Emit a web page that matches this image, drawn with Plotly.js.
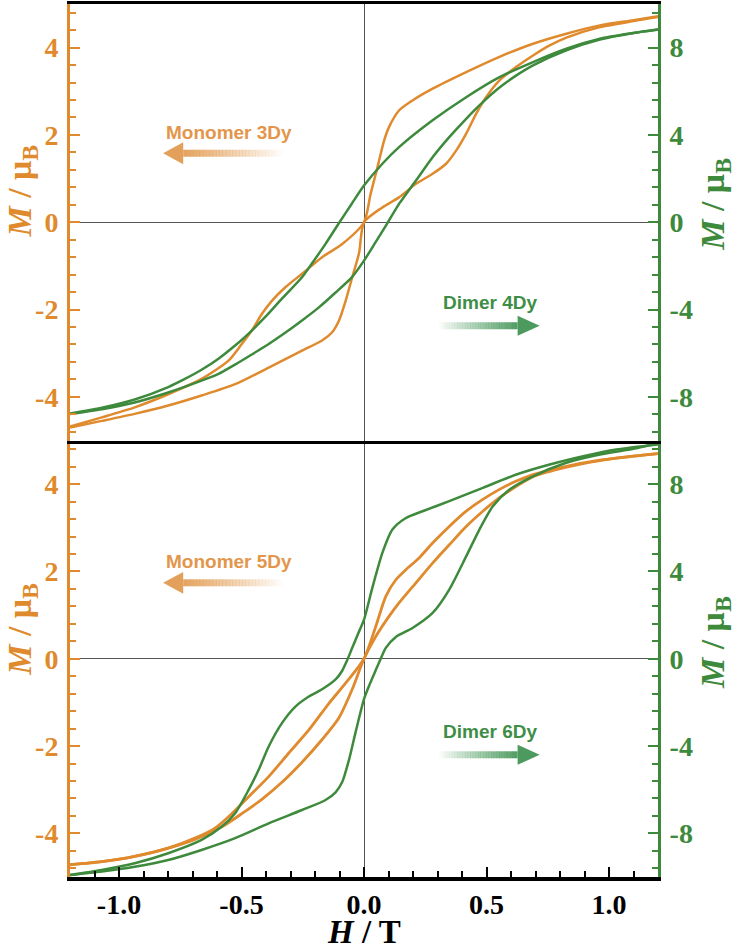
<!DOCTYPE html>
<html>
<head>
<meta charset="utf-8">
<script src="https://cdn.plot.ly/plotly-3.0.1.min.js"></script>
<style>html,body{margin:0;padding:0;background:#fff;}#chart{width:736px;height:950px;}</style>
</head>
<body>
<div id="chart"></div>
<script>
// ---------- DATA ----------
// Top panel, Monomer 3Dy (left axis, M / muB)
const H_top_mono_up = [-1.2,-1.07,-0.936,-0.799,-0.663,-0.526,-0.389,-0.253,-0.171,-0.13,-0.102,-0.075,-0.048,-0.02,0,0.075,0.143,0.212,0.28,0.335,0.376,0.417,0.458,0.499,0.553,0.622,0.69,0.758,0.826,0.963,1.10,1.2];
const M_top_mono_up = [-4.70,-4.55,-4.39,-4.20,-3.97,-3.71,-3.33,-2.94,-2.71,-2.52,-2.25,-1.80,-1.26,-0.70,0,0.34,0.57,0.88,1.11,1.34,1.64,2.03,2.49,2.87,3.25,3.56,3.82,4.05,4.23,4.47,4.61,4.70];
const H_top_mono_down = [1.2,1.10,0.963,0.826,0.69,0.553,0.417,0.28,0.198,0.143,0.102,0.082,0.055,0.027,0,-0.089,-0.171,-0.253,-0.321,-0.376,-0.417,-0.458,-0.499,-0.553,-0.663,-0.799,-0.936,-1.07,-1.2];
const M_top_mono_down = [4.72,4.63,4.51,4.32,4.09,3.79,3.44,3.06,2.79,2.56,2.18,1.87,1.26,0.65,0,-0.50,-0.80,-1.18,-1.49,-1.80,-2.10,-2.48,-2.79,-3.17,-3.59,-3.94,-4.24,-4.47,-4.68];
// Top panel, Dimer 4Dy (right axis)
const H_top_dim_up = [-1.2,-1.07,-0.936,-0.799,-0.663,-0.594,-0.526,-0.458,-0.389,-0.335,-0.253,-0.184,-0.116,-0.048,0,0.048,0.095,0.143,0.212,0.28,0.348,0.417,0.485,0.553,0.622,0.69,0.826,0.963,1.10,1.2];
const M_top_dim_up = [-8.79,-8.57,-8.26,-7.80,-7.26,-6.95,-6.52,-6.06,-5.58,-5.17,-4.50,-3.90,-3.22,-2.50,-1.76,-0.90,-0.05,0.84,1.91,2.98,3.90,4.74,5.50,6.17,6.73,7.19,7.88,8.37,8.67,8.83];
const H_top_dim_down = [1.2,1.10,0.963,0.826,0.69,0.553,0.417,0.28,0.143,0.075,0,-0.05,-0.10,-0.157,-0.212,-0.253,-0.335,-0.403,-0.471,-0.526,-0.594,-0.663,-0.731,-0.799,-0.936,-1.07,-1.2];
const M_top_dim_down = [8.83,8.67,8.41,7.95,7.34,6.65,5.73,4.67,3.44,2.68,1.68,0.85,0.0,-0.99,-1.88,-2.52,-3.50,-4.34,-5.10,-5.65,-6.25,-6.76,-7.18,-7.55,-8.12,-8.50,-8.76];
// Bottom panel, Monomer 5Dy (left axis)
const H_bot_mono_up = [-1.2,-1.07,-0.936,-0.799,-0.69,-0.58,-0.499,-0.417,-0.335,-0.253,-0.171,-0.102,-0.048,0,0.048,0.102,0.143,0.212,0.28,0.348,0.417,0.485,0.553,0.622,0.69,0.826,0.963,1.10,1.2];
const M_bot_mono_up = [-4.72,-4.65,-4.53,-4.34,-4.14,-3.85,-3.55,-3.22,-2.83,-2.37,-1.85,-1.35,-0.70,0,0.51,0.97,1.28,1.74,2.19,2.61,3.03,3.38,3.69,3.95,4.17,4.39,4.54,4.64,4.70];
const H_bot_mono_down = [1.2,1.10,0.963,0.826,0.69,0.622,0.553,0.485,0.417,0.348,0.28,0.225,0.171,0.13,0.089,0.048,0,-0.075,-0.143,-0.225,-0.307,-0.389,-0.471,-0.553,-0.608,-0.69,-0.799,-0.936,-1.07,-1.2];
const M_bot_mono_down = [4.70,4.64,4.55,4.41,4.22,4.07,3.88,3.65,3.38,3.03,2.65,2.31,2.04,1.81,1.43,0.74,0,-0.56,-1.02,-1.63,-2.16,-2.70,-3.16,-3.62,-3.88,-4.11,-4.34,-4.53,-4.65,-4.72];
// Bottom panel, Dimer 6Dy (right axis)
const H_bot_dim_up = [-1.2,-1.07,-0.936,-0.799,-0.663,-0.526,-0.389,-0.253,-0.157,-0.116,-0.089,-0.061,-0.034,0,0.024,0.048,0.07,0.089,0.13,0.198,0.28,0.348,0.417,0.471,0.526,0.594,0.69,0.826,0.963,1.10,1.2];
const M_bot_dim_up = [-9.91,-9.75,-9.53,-9.22,-8.76,-8.22,-7.54,-6.93,-6.47,-6.12,-5.65,-4.62,-3.35,-1.85,-1.15,-0.52,0.05,0.50,1.00,1.41,2.10,3.17,4.69,5.92,6.99,7.75,8.36,8.98,9.36,9.62,9.86];
const H_bot_dim_down = [1.2,1.03,0.895,0.758,0.622,0.485,0.348,0.239,0.171,0.116,0.075,0.034,0,-0.024,-0.048,-0.07,-0.089,-0.116,-0.171,-0.225,-0.28,-0.335,-0.389,-0.43,-0.471,-0.526,-0.58,-0.663,-0.799,-0.936,-1.07,-1.2];
const M_bot_dim_down = [9.82,9.59,9.28,8.90,8.44,7.83,7.22,6.76,6.45,5.92,4.85,3.25,1.79,1.15,0.50,-0.10,-0.55,-0.95,-1.40,-1.73,-2.19,-2.95,-4.02,-5.09,-6.01,-7.08,-7.69,-8.30,-8.91,-9.37,-9.68,-9.91];

// Tick labels
const xTickVals = [-1.0,-0.5,0,0.5,1.0];
const xTickText = ['-1.0','-0.5','0.0','0.5','1.0'];
const yLeftVals = [-4,-2,0,2,4];
const yLeftText = ['-4','-2','0','2','4'];
const yRightVals = [-8,-4,0,4,8];
const yRightText = ['-8','-4','0','4','8'];
// Labels
const labels = ['Monomer 3Dy','Dimer 4Dy','Monomer 5Dy','Dimer 6Dy'];

// ---------- STYLE ----------
const ORANGE = '#E08A2E';
const GREEN = '#3E8A3C';
const ORANGE_TXT = '#E3964B';
const GREEN_TXT = '#3E8E46';
const ORANGE_ARR = [227,160,90];
const GREEN_ARR = [76,154,94];
const SERIF = 'Liberation Serif';
const SANS = 'Liberation Sans';
const bold = (arr) => arr.map(t => '<b>' + t + '</b>');

function tr(x, y, xa, ya, color, w) {
  return {x: x, y: y, xaxis: xa, yaxis: ya, type: 'scatter', mode: 'lines',
    line: {color: color, width: w, shape: 'spline', smoothing: 0.7}, hoverinfo: 'skip', showlegend: false};
}
const traces = [
  tr(H_top_mono_up, M_top_mono_up, 'x2', 'y3', ORANGE, 2.5),
  tr(H_top_mono_down, M_top_mono_down, 'x2', 'y3', ORANGE, 2.5),
  tr(H_top_dim_up, M_top_dim_up, 'x2', 'y4', GREEN, 2.5),
  tr(H_top_dim_down, M_top_dim_down, 'x2', 'y4', GREEN, 2.5),
  tr(H_bot_mono_up, M_bot_mono_up, 'x', 'y', ORANGE, 2.8),
  tr(H_bot_mono_down, M_bot_mono_down, 'x', 'y', ORANGE, 2.8),
  tr(H_bot_dim_up, M_bot_dim_up, 'x', 'y2', GREEN, 2.5),
  tr(H_bot_dim_down, M_bot_dim_down, 'x', 'y2', GREEN, 2.5)
];

// gradient arrows drawn as shapes (decoration)
function gradArrow(xref, yref, xTip, xHead, xTail, y, hh, hs, rgb) {
  const out = [];
  const N = 30;
  for (let i = 0; i < N; i++) {
    const a0 = xHead + (xTail - xHead) * i / N;
    const a1 = xHead + (xTail - xHead) * (i + 1.15) / N;
    const t = i / N;
    const alpha = Math.max(0, 1 - t) * 0.95;
    out.push({type: 'rect', xref: xref, yref: yref, x0: a0, x1: a1, y0: y - hs, y1: y + hs,
      fillcolor: `rgba(${rgb[0]},${rgb[1]},${rgb[2]},${alpha.toFixed(3)})`, line: {width: 0}});
  }
  out.push({type: 'path', xref: xref, yref: yref,
    path: `M ${xTip} ${y} L ${xHead} ${y + hh} L ${xHead} ${y - hh} Z`,
    fillcolor: `rgb(${rgb[0]},${rgb[1]},${rgb[2]})`, line: {width: 0}});
  return out;
}
const shapes = [].concat(
  gradArrow('x2', 'y3', -0.82, -0.738, -0.336, 1.58, 0.25, 0.08, ORANGE_ARR),
  gradArrow('x2', 'y3', 0.717, 0.627, 0.307, -2.37, 0.23, 0.08, GREEN_ARR),
  gradArrow('x', 'y', -0.82, -0.738, -0.336, 1.74, 0.25, 0.08, ORANGE_ARR),
  gradArrow('x', 'y', 0.717, 0.627, 0.307, -2.20, 0.23, 0.08, GREEN_ARR)
);

const lblFont = (c) => ({family: SANS, size: 19, color: c});
const titleTxt = '<b><i>M</i> / μ<sub>B</sub></b>';
function ann(o) { return Object.assign({showarrow: false, xanchor: 'center', yanchor: 'middle'}, o); }
const annotations = [
  ann({xref: 'x2', yref: 'y3', x: -0.55, y: 2.06, text: '<b>' + labels[0] + '</b>', font: lblFont(ORANGE_TXT)}),
  ann({xref: 'x2', yref: 'y3', x: 0.516, y: -1.84, text: '<b>' + labels[1] + '</b>', font: lblFont(GREEN_TXT)}),
  ann({xref: 'x', yref: 'y', x: -0.55, y: 2.22, text: '<b>' + labels[2] + '</b>', font: lblFont(ORANGE_TXT)}),
  ann({xref: 'x', yref: 'y', x: 0.516, y: -1.67, text: '<b>' + labels[3] + '</b>', font: lblFont(GREEN_TXT)}),
  ann({xref: 'paper', yref: 'paper', x: -0.082, y: 0.786, text: titleTxt, textangle: -90,
    font: {family: SERIF, size: 34, color: ORANGE}}),
  ann({xref: 'paper', yref: 'paper', x: -0.082, y: 0.284, text: titleTxt, textangle: -90,
    font: {family: SERIF, size: 34, color: ORANGE}}),
  ann({xref: 'paper', yref: 'paper', x: 1.097, y: 0.77, text: titleTxt, textangle: -90,
    font: {family: SERIF, size: 34, color: GREEN}}),
  ann({xref: 'paper', yref: 'paper', x: 1.097, y: 0.268, text: titleTxt, textangle: -90,
    font: {family: SERIF, size: 34, color: GREEN}}),
  ann({xref: 'paper', yref: 'paper', x: 0.5, y: -0.0625, text: '<b><i>H</i> / T</b>',
    font: {family: SERIF, size: 33, color: '#000'}})
];

function yAx(domain, side, color, range, vals, text, mdt, overlay, anchor) {
  const a = {range: range, side: side, anchor: anchor, showgrid: false,
    showline: true, linecolor: color, linewidth: 3,
    ticks: 'inside', ticklen: 10, tickwidth: 2, tickcolor: color,
    tickmode: 'array', tickvals: vals, ticktext: bold(text), ticklabelstandoff: 3,
    tickfont: {family: SERIF, size: 28, color: color},
    minor: {dtick: mdt, tick0: 0, ticks: 'inside', ticklen: 6, tickwidth: 2, tickcolor: color},
    zeroline: side === 'left', zerolinecolor: '#555', zerolinewidth: 1, fixedrange: true};
  if (overlay) a.overlaying = overlay; else a.domain = domain;
  return a;
}

const layout = {
  width: 736, height: 950,
  margin: {l: 70, r: 78, t: 4, b: 73},
  paper_bgcolor: '#fff', plot_bgcolor: 'rgba(0,0,0,0)',
  showlegend: false,
  font: {family: SERIF},
  xaxis: {range: [-1.2, 1.2], domain: [0, 1], anchor: 'y', showgrid: false,
    showline: true, linecolor: '#000', linewidth: 3.5,
    ticks: 'inside', ticklen: 10, tickwidth: 2, tickcolor: '#000',
    tickmode: 'array', tickvals: xTickVals, ticktext: bold(xTickText), ticklabelstandoff: 0,
    tickfont: {family: SERIF, size: 28, color: '#000'},
    minor: {dtick: 0.1, tick0: 0, ticks: 'inside', ticklen: 6, tickwidth: 2, tickcolor: '#000'},
    zeroline: true, zerolinecolor: '#555', zerolinewidth: 1},
  xaxis2: {range: [-1.2, 1.2], domain: [0, 1], anchor: 'y3', matches: 'x', showgrid: false,
    showline: true, mirror: true, linecolor: '#000', linewidth: 3.5,
    ticks: '', showticklabels: false,
    zeroline: true, zerolinecolor: '#555', zerolinewidth: 1},
  yaxis: yAx([0, 0.5], 'left', ORANGE, [-5, 5], yLeftVals, yLeftText, 0.4, null, 'x'),
  yaxis2: yAx(null, 'right', GREEN, [-10, 10], yRightVals, yRightText, 0.8, 'y', 'x'),
  yaxis3: yAx([0.5, 1], 'left', ORANGE, [-5, 5], yLeftVals, yLeftText, 0.4, null, 'x2'),
  yaxis4: yAx(null, 'right', GREEN, [-10, 10], yRightVals, yRightText, 0.8, 'y3', 'x2'),
  shapes: shapes,
  annotations: annotations
};

Plotly.newPlot('chart', traces, layout, {staticPlot: true, displayModeBar: false});
</script>
</body>
</html>
